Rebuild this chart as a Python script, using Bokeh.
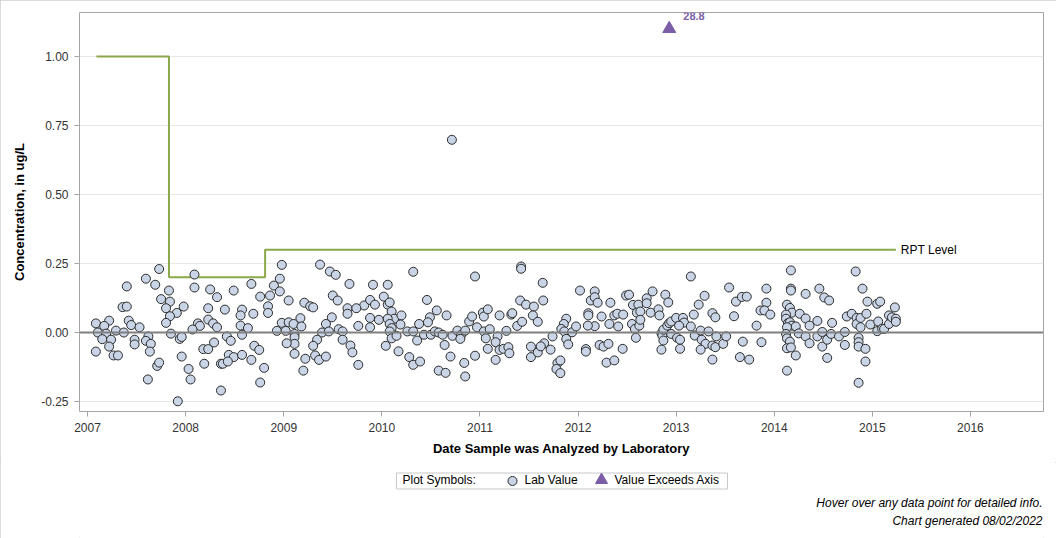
from bokeh.plotting import figure
from bokeh.layouts import column
from bokeh.models import (ColumnDataSource, FixedTicker, NumeralTickFormatter, Span, Label)
from bokeh.core.properties import value
from bokeh.embed import file_html
from bokeh.resources import INLINE

# ---- Lab results: analysis date (decimal year) and concentration (ug/L) ----
year_07_08 = [2007.73, 2008.09, 2007.595, 2007.69, 2007.40, 2007.83, 2008.09, 2008.25, 2008.32, 2007.75,
              2007.84, 2007.357, 2007.40, 2007.80, 2007.98, 2008.23, 2007.91, 2007.84, 2007.22, 2007.42,
              2007.80, 2007.085, 2007.17, 2007.445, 2007.53, 2008.125, 2008.145, 2008.23, 2008.28, 2008.32,
              2008.07, 2007.29, 2007.37, 2007.105, 2007.19, 2007.85, 2007.15, 2007.24, 2007.62, 2007.48,
              2007.48, 2007.595, 2007.645, 2007.94, 2007.96, 2007.22, 2007.085, 2007.635, 2008.18, 2008.23,
              2008.29, 2007.265, 2007.31, 2007.96, 2007.71, 2007.73, 2008.03, 2008.19, 2007.615, 2008.05,
              2008.36, 2008.36, 2007.92]
conc_07_08 = [0.230, 0.210, 0.195, 0.173, 0.167, 0.152, 0.163, 0.156, 0.128, 0.121,
              0.112, 0.092, 0.094, 0.088, 0.094, 0.088, 0.071, 0.059, 0.043, 0.043,
              0.035, 0.033, 0.024, 0.027, 0.019, 0.033, 0.024, 0.047, 0.033, 0.019,
              0.011, 0.007, 0.000, 0.000, -0.004, -0.004, -0.024, -0.026, -0.014, -0.026,
              -0.043, -0.030, -0.041, -0.023, -0.016, -0.051, -0.069, -0.069, -0.060, -0.060,
              -0.036, -0.083, -0.083, -0.087, -0.121, -0.109, -0.132, -0.113, -0.170, -0.170,
              -0.113, -0.210, -0.249]

year_08_09 = [2008.98, 2009.37, 2009.47, 2009.53, 2008.96, 2008.67, 2009.67, 2008.49, 2008.90, 2008.96,
              2008.86, 2008.76, 2009.50, 2009.55, 2009.05, 2009.21, 2009.27, 2009.30, 2008.40, 2008.575,
              2008.56, 2008.84, 2008.84, 2008.69, 2009.65, 2009.65, 2009.17, 2009.49, 2008.98, 2009.05,
              2009.10, 2009.18, 2009.43, 2008.56, 2008.635, 2008.93, 2009.02, 2008.575, 2009.11, 2009.11,
              2009.11, 2009.39, 2009.46, 2009.56, 2009.60, 2008.42, 2008.46, 2009.03, 2009.34, 2009.30,
              2009.60, 2009.68, 2009.70, 2008.70, 2008.75, 2009.11, 2008.44, 2008.49, 2008.575, 2008.38,
              2008.43, 2008.67, 2009.22, 2009.32, 2009.36, 2009.43, 2008.80, 2009.20, 2008.76]
conc_08_09 = [0.245, 0.246, 0.221, 0.209, 0.195, 0.176, 0.176, 0.152, 0.170, 0.149,
              0.134, 0.130, 0.134, 0.116, 0.116, 0.108, 0.095, 0.091, 0.083, 0.083,
              0.062, 0.095, 0.071, 0.068, 0.088, 0.068, 0.052, 0.055, 0.035, 0.037,
              0.031, 0.022, 0.031, 0.025, 0.016, 0.006, 0.006, -0.008, -0.005, -0.017,
              -0.041, 0.000, 0.004, 0.012, 0.004, -0.014, -0.030, -0.039, -0.026, -0.048,
              -0.026, -0.047, -0.072, -0.048, -0.063, -0.077, -0.081, -0.089, -0.081, -0.113,
              -0.105, -0.099, -0.095, -0.083, -0.099, -0.087, -0.128, -0.138, -0.181]

year_09_11 = [2010.714, 2010.32, 2010.95, 2009.91, 2010.06, 2010.02, 2010.06, 2010.08, 2009.82, 2009.88,
              2009.93, 2009.74, 2010.46, 2010.10, 2010.125, 2010.20, 2009.88, 2009.97, 2009.88, 2009.76,
              2010.06, 2010.08, 2010.10, 2010.08, 2010.10, 2010.15, 2010.19, 2010.26, 2010.32, 2010.36,
              2010.56, 2010.49, 2010.47, 2010.66, 2010.38, 2010.43, 2010.50, 2010.54, 2010.58, 2010.62,
              2010.64, 2010.70, 2010.72, 2010.77, 2010.81, 2010.85, 2010.80, 2010.84, 2010.85, 2010.58,
              2010.65, 2010.28, 2010.32, 2010.39, 2010.17, 2010.04, 2009.76, 2010.89, 2010.92, 2010.97,
              2011.03, 2011.04, 2011.08, 2011.04, 2011.06, 2011.08, 2011.10, 2010.95]
conc_09_11 = [0.698, 0.220, 0.203, 0.173, 0.173, 0.130, 0.101, 0.109, 0.098, 0.118,
              0.101, 0.088, 0.118, 0.076, 0.050, 0.062, 0.053, 0.046, 0.019, 0.024,
              0.050, 0.031, 0.016, 0.004, -0.021, -0.012, 0.029, 0.004, 0.004, -0.029,
              0.080, 0.055, 0.037, 0.062, 0.031, -0.008, -0.008, 0.004, 0.000, -0.008,
              -0.045, -0.087, -0.012, 0.007, -0.008, 0.007, -0.023, -0.110, -0.159, -0.138,
              -0.146, -0.089, -0.117, -0.105, -0.068, -0.048, -0.117, 0.040, 0.058, 0.019,
              0.072, 0.058, 0.084, 0.004, -0.021, -0.059, 0.012, -0.084]

year_11_12 = [2011.42, 2011.42, 2011.64, 2011.41, 2011.47, 2011.55, 2011.645, 2012.02, 2012.17, 2012.13,
              2012.17, 2012.20, 2012.33, 2012.49, 2011.20, 2011.32, 2011.33, 2011.54, 2011.59, 2011.38,
              2011.43, 2011.27, 2011.18, 2011.16, 2011.20, 2011.24, 2011.29, 2011.30, 2011.16, 2011.52,
              2011.52, 2011.59, 2011.655, 2011.62, 2011.72, 2011.74, 2011.88, 2011.855, 2011.83, 2011.86,
              2011.94, 2011.98, 2011.88, 2011.90, 2011.79, 2011.78, 2011.82, 2011.82, 2012.105, 2012.105,
              2012.17, 2012.10, 2012.08, 2012.08, 2012.24, 2012.32, 2012.37, 2012.40, 2012.41, 2012.46,
              2012.22, 2012.26, 2012.31, 2012.29, 2012.37, 2012.455]
conc_11_12 = [0.239, 0.231, 0.180, 0.116, 0.101, 0.094, 0.116, 0.152, 0.149, 0.116,
              0.128, 0.108, 0.108, 0.134, 0.062, 0.065, 0.070, 0.062, 0.039, 0.024,
              0.039, 0.006, -0.014, -0.035, -0.063, -0.059, -0.053, -0.075, -0.099, -0.051,
              -0.089, -0.072, -0.039, -0.050, -0.062, -0.014, 0.050, 0.031, 0.013, 0.004,
              0.001, 0.022, -0.023, -0.043, -0.111, -0.132, -0.101, -0.147, 0.070, 0.062,
              0.023, 0.025, -0.060, -0.069, 0.058, 0.031, 0.062, 0.068, 0.022, 0.065,
              -0.045, -0.051, -0.041, -0.109, -0.101, -0.059]

year_12_13 = [2013.15, 2013.54, 2012.52, 2012.76, 2012.70, 2012.89, 2012.92, 2013.29, 2013.23, 2013.61,
              2013.67, 2013.72, 2012.56, 2012.615, 2012.60, 2012.635, 2012.70, 2012.74, 2012.82, 2012.83,
              2012.55, 2012.58, 2012.625, 2012.635, 2012.59, 2012.85, 2012.86, 2012.87, 2012.91, 2012.93,
              2012.95, 2013.00, 2013.07, 2013.08, 2013.03, 2012.95, 2013.01, 2013.04, 2012.87, 2012.85,
              2013.04, 2013.18, 2013.15, 2013.19, 2013.25, 2013.33, 2013.26, 2013.30, 2013.25, 2013.37,
              2013.41, 2013.40, 2013.37, 2013.37, 2013.40, 2013.59, 2013.48, 2013.51, 2013.65, 2013.745,
              2013.68, 2013.82, 2013.87, 2013.86]
conc_12_13 = [0.203, 0.163, 0.137, 0.149, 0.124, 0.137, 0.109, 0.133, 0.101, 0.112,
              0.129, 0.130, 0.100, 0.101, 0.072, 0.076, 0.106, 0.072, 0.084, 0.062,
              0.031, 0.013, 0.025, 0.046, -0.019, -0.003, -0.011, 0.010, 0.025, 0.034,
              0.040, 0.053, 0.053, 0.036, 0.025, -0.005, -0.019, -0.026, -0.029, -0.062,
              -0.059, 0.065, 0.022, -0.011, 0.007, 0.004, -0.026, -0.041, -0.062, -0.047,
              -0.014, -0.053, -0.098, 0.070, 0.055, 0.059, -0.041, -0.014, -0.089, -0.098,
              -0.033, 0.025, -0.035, 0.080]

year_14_15 = [2014.17, 2014.83, 2013.92, 2014.17, 2014.17, 2014.32, 2014.46, 2014.51, 2014.56, 2014.90,
              2014.95, 2015.05, 2015.08, 2013.92, 2013.90, 2013.96, 2014.13, 2014.16, 2014.18, 2014.12,
              2014.26, 2014.32, 2014.36, 2014.44, 2014.12, 2014.14, 2014.16, 2014.18, 2014.22, 2014.13,
              2014.12, 2014.13, 2014.16, 2014.13, 2014.17, 2014.22, 2014.13, 2014.25, 2014.32, 2014.36,
              2014.44, 2014.49, 2014.49, 2014.54, 2014.58, 2014.54, 2014.59, 2014.66, 2014.72, 2014.72,
              2014.74, 2014.79, 2014.84, 2014.84, 2014.88, 2014.88, 2014.94, 2014.98, 2014.86, 2014.86,
              2014.86, 2014.93, 2014.93, 2014.86, 2015.05, 2015.06, 2015.10, 2015.12, 2015.17, 2015.17,
              2015.20, 2015.24, 2015.24, 2015.23]
conc_14_15 = [0.225, 0.221, 0.159, 0.159, 0.152, 0.140, 0.159, 0.127, 0.116, 0.159,
              0.112, 0.104, 0.112, 0.108, 0.080, 0.065, 0.101, 0.089, 0.072, 0.065,
              0.068, 0.051, 0.025, 0.042, 0.050, 0.034, 0.037, 0.025, 0.022, 0.019,
              -0.005, -0.021, -0.033, -0.057, -0.054, -0.083, -0.138, -0.003, -0.014, -0.039,
              -0.014, 0.002, -0.051, -0.026, -0.005, -0.092, 0.035, -0.014, 0.002, -0.045,
              0.058, 0.068, 0.053, 0.031, 0.019, 0.053, 0.068, 0.029, -0.019, -0.035,
              -0.051, -0.059, -0.105, -0.182, 0.005, 0.040, 0.014, 0.013, 0.031, 0.062,
              0.055, 0.050, 0.039, 0.091]

# Result above the axis maximum: plotted at the cap, labelled with its value
exceed_year = [2012.93]
exceed_value = [28.8]
axis_cap = 1.10

# Reporting level history (start, end, level)
rpt_start = [2007.09, 2007.83, 2008.81]
rpt_end = [2007.83, 2008.81, 2015.24]
rpt_level = [1.00, 0.20, 0.30]

year_ticks = [2007, 2008, 2009, 2010, 2011, 2012, 2013, 2014, 2015, 2016]
conc_ticks = [-0.25, 0.0, 0.25, 0.50, 0.75, 1.00]

footnotes = ["Hover over any data point for detailed info.", "Chart generated 08/02/2022"]

FONT = "Liberation Sans"
LAB_FILL, LAB_LINE = "#c9d5e6", "#2a2a2a"
EXCEED_COLOR = "#7b5ea7"

years = year_07_08 + year_08_09 + year_09_11 + year_11_12 + year_12_13 + year_14_15
concs = conc_07_08 + conc_08_09 + conc_09_11 + conc_11_12 + conc_12_13 + conc_14_15

# ---------------- main chart ----------------
p = figure(width=1056, height=462, output_backend="svg", toolbar_location=None,
           x_range=(2006.918, 2016.745), y_range=(-0.286, 1.159),
           min_border_left=79, min_border_right=13, min_border_top=12, min_border_bottom=51,
           background_fill_color="white", border_fill_color="white")
p.outline_line_color = "#a5a5a5"
p.outline_line_width = 1

p.xgrid.grid_line_color = None
p.ygrid.ticker = FixedTicker(ticks=conc_ticks)
p.ygrid.grid_line_color = "#e8e8e8"
p.ygrid.grid_line_width = 1

for ax in (p.xaxis[0], p.yaxis[0]):
    ax.axis_line_color = None
    ax.major_tick_line_color = "#a5a5a5"
    ax.major_tick_out = 5
    ax.major_tick_in = 0
    ax.minor_tick_line_color = None
    ax.major_label_text_font = FONT
    ax.major_label_text_font_size = "12px"
    ax.major_label_text_color = "#333333"
    ax.axis_label_text_font = FONT
    ax.axis_label_text_font_size = "13px"
    ax.axis_label_text_font_style = "bold"
    ax.axis_label_text_color = "#000000"

p.xaxis.ticker = FixedTicker(ticks=year_ticks)
p.xaxis.formatter = NumeralTickFormatter(format="0")
p.xaxis.axis_label = "Date Sample was Analyzed by Laboratory"
p.xaxis.major_label_standoff = 6
p.xaxis.axis_label_standoff = 6

p.yaxis.ticker = FixedTicker(ticks=conc_ticks)
p.yaxis.formatter = NumeralTickFormatter(format="0.00")
p.yaxis.axis_label = "Concentration, in ug/L"
p.yaxis.major_label_standoff = 6
p.yaxis.axis_label_standoff = 11

# zero reference line
p.add_layout(Span(location=0, dimension="width", line_color="#808080", line_width=2))

# reporting level as a step line
rx, ry = [], []
for s, e, lv in zip(rpt_start, rpt_end, rpt_level):
    rx += [s, e]
    ry += [lv, lv]
p.line(rx, ry, line_color="#8ba84a", line_width=2)
p.add_layout(Label(x=rpt_end[-1], y=rpt_level[-1], text="RPT Level", x_offset=5,
                   text_baseline="middle", text_font=FONT, text_font_size="12px",
                   text_color="#000000"))

# lab values
src = ColumnDataSource(dict(x=years, y=concs))
p.scatter("x", "y", source=src, marker="circle", size=9,
          fill_color=LAB_FILL, line_color=LAB_LINE, line_width=1)

# results exceeding the axis
p.scatter(exceed_year, [axis_cap] * len(exceed_year), marker="triangle", size=13,
          fill_color=EXCEED_COLOR, line_color=EXCEED_COLOR)
for xv, v in zip(exceed_year, exceed_value):
    p.add_layout(Label(x=xv, y=axis_cap, text=f"{v:.1f}", x_offset=14, y_offset=13,
                       text_baseline="middle", text_font=FONT, text_font_size="11px",
                       text_font_style="bold", text_color=EXCEED_COLOR))

# ---------------- symbol key and footnotes ----------------
# the strip's frame lines up with the chart frame (page x 79..1043);
# coordinates below are page pixels, y measured downward from the strip top
f = figure(width=1056, height=76, output_backend="svg", toolbar_location=None,
           x_range=(79, 1043), y_range=(76, 0), min_border=0,
           background_fill_color="white", border_fill_color="white")
f.axis.visible = False
f.grid.grid_line_color = None
f.outline_line_color = None

f.quad(left=[396], right=[727], top=[10.5], bottom=[26.5],
       fill_color=None, line_color="#c8c8c8", line_width=1)
f.text(x=[402, 524, 614], y=[17.5, 17.5, 17.5],
       text=["Plot Symbols:", "Lab Value", "Value Exceeds Axis"],
       text_font=value(FONT), text_font_size="12px", text_color="#000000",
       text_baseline="middle", text_align="left")
f.scatter(x=[512], y=[18.5], marker="circle", size=9,
          fill_color=LAB_FILL, line_color=LAB_LINE, line_width=1)
f.scatter(x=[601], y=[17.5], marker="triangle", size=12,
          fill_color=EXCEED_COLOR, line_color=EXCEED_COLOR)
f.text(x=[1042, 1042], y=[40, 58], text=footnotes,
       text_font=value(FONT), text_font_size="12px", text_font_style="italic",
       text_color="#000000", text_baseline="middle", text_align="right")

layout = column(p, f, spacing=0)
layout.styles = {"outline": "1px solid #cfcfcf", "outline-offset": "-1px"}

open("out.html", "w").write(file_html(layout, INLINE))
